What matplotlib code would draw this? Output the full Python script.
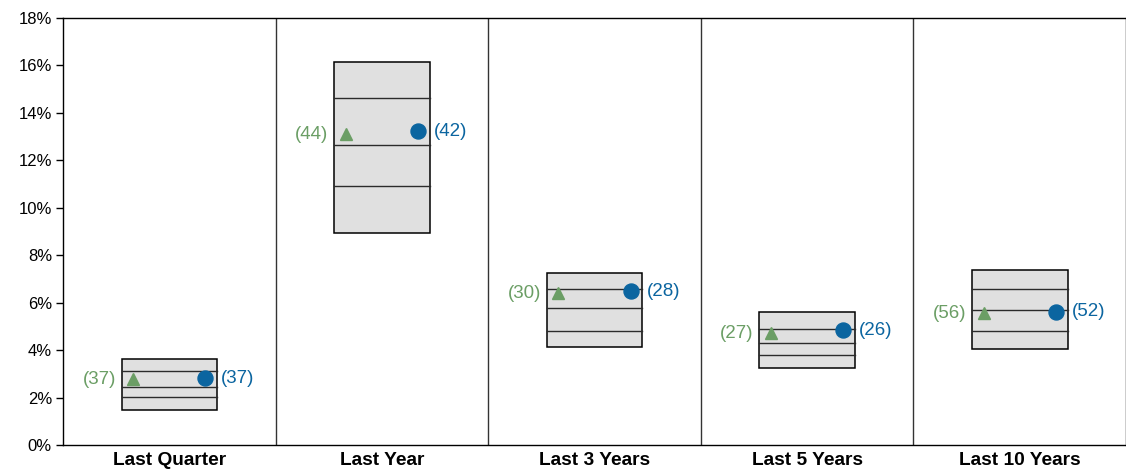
import matplotlib.pyplot as plt
from matplotlib.patches import Rectangle

plt.rcParams['font.family'] = ['Liberation Sans', 'DejaVu Sans']

periods = ["Last Quarter", "Last Year", "Last 3 Years", "Last 5 Years", "Last 10 Years"]

# Peer universe percentiles (5th, 25th, median, 75th, 95th), in %
p05 = [1.46, 8.92, 4.14, 3.25, 4.03]
p25 = [2.01, 10.92, 4.82, 3.79, 4.79]
p50 = [2.45, 12.65, 5.78, 4.29, 5.69]
p75 = [3.12, 14.64, 6.58, 4.88, 6.58]
p95 = [3.63, 16.16, 7.26, 5.59, 7.38]

# Benchmark (triangle) and portfolio (circle) returns with their ranks
bench_ret = [2.78, 13.10, 6.39, 4.71, 5.55]
bench_rank = [37, 44, 30, 27, 56]
port_ret = [2.81, 13.22, 6.49, 4.84, 5.61]
port_rank = [37, 42, 28, 26, 52]

GREEN = "#6b9e65"
BLUE = "#0b65a0"
BOX_HALF = 0.225
MARK_OFF = 0.17

fig = plt.figure(figsize=(11.26, 4.70), dpi=100)
ax = fig.add_axes([0.056, 0.053, 0.944, 0.909])

for i in range(len(periods)):
    box = Rectangle((i - BOX_HALF, p05[i]), 2 * BOX_HALF, p95[i] - p05[i],
                    facecolor="#e0e0e0", edgecolor="black", linewidth=1.1, zorder=2)
    ax.add_patch(box)
    for q in (p25[i], p50[i], p75[i]):
        ax.plot([i - BOX_HALF, i + BOX_HALF], [q, q], color="#2b2b2b", lw=1.0, zorder=3)

    ax.plot(i - MARK_OFF, bench_ret[i], marker="^", color=GREEN, markersize=9,
            linestyle="none", zorder=4)
    ax.plot(i + MARK_OFF, port_ret[i], marker="o", color=BLUE, markersize=10.8,
            linestyle="none", zorder=4)

    ax.annotate(f"({bench_rank[i]})", (i - BOX_HALF, bench_ret[i]), xytext=(-4, 0),
                textcoords="offset points", ha="right", va="center",
                color=GREEN, fontsize=13.5)
    ax.annotate(f"({port_rank[i]})", (i + BOX_HALF, port_ret[i]), xytext=(3, 0),
                textcoords="offset points", ha="left", va="center",
                color=BLUE, fontsize=13.5)

# separators between periods
for x in range(1, len(periods)):
    ax.axvline(x - 0.5, color="#333333", lw=1.0, zorder=1)

ax.set_xlim(-0.5, len(periods) - 0.5)
ax.set_ylim(0, 18)
ax.set_yticks(range(0, 19, 2))
ax.set_yticklabels([f"{v}%" for v in range(0, 19, 2)], fontsize=12)
ax.set_xticks(range(len(periods)))
ax.set_xticklabels(periods, fontsize=13.8, fontweight="bold")
ax.tick_params(axis="x", length=0, pad=5)
ax.tick_params(axis="y", length=5, width=1, direction="out", pad=3)
for s in ax.spines.values():
    s.set_linewidth(1.0)

fig.savefig("out.png", dpi=100)
